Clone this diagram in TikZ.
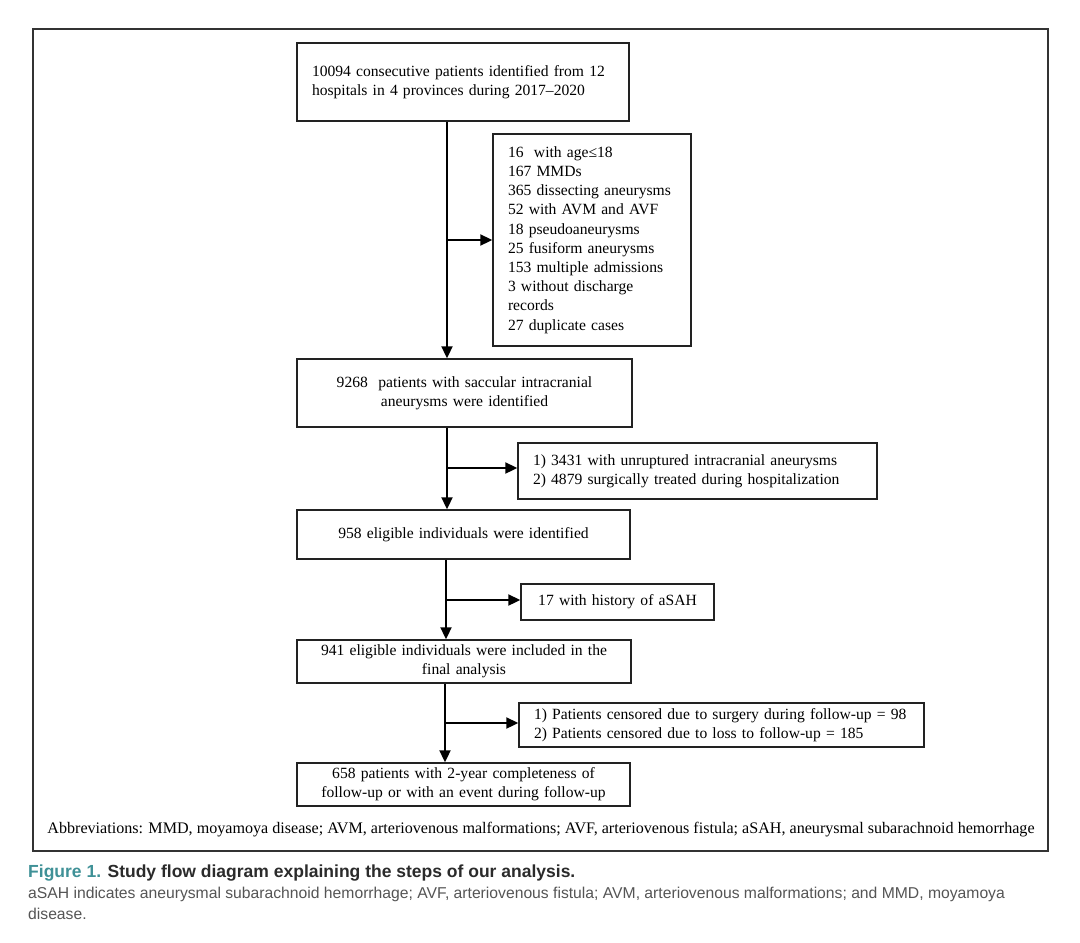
\documentclass[tikz,border=0pt]{standalone}
\usepackage{fontspec}
\setmainfont{Liberation Serif}
\newfontfamily\capfont{Liberation Sans}
\usetikzlibrary{arrows.meta}
\definecolor{framec}{HTML}{333333}
\definecolor{linec}{HTML}{222222}
\definecolor{tealc}{HTML}{3F9197}
\definecolor{capgray}{HTML}{555555}
\definecolor{capdark}{HTML}{2B2B2B}
\begin{document}
\begin{tikzpicture}[x=1pt,y=-1pt,
  box/.style={draw=linec, line width=1.4pt, inner xsep=15pt, inner ysep=2pt,
    font=\fontsize{15.6}{19.2}\selectfont, text=black},
  flow/.style={draw=black, line width=2pt, -{Triangle[length=12pt,width=11pt]}},
  capline/.style={anchor=base west, inner sep=0pt, font=\capfont\fontsize{15.7}{20}\selectfont}
  ]
\useasboundingbox (0,0) rectangle (1080,943);
\fill[white] (0,0) rectangle (1080,943);
\draw[framec, line width=2.2pt] (33,29) rectangle (1048,851);

\node[box, text width=302pt, align=left, minimum height=78pt] (b1) at (463,82)
  {10094 consecutive patients identified from 12\\hospitals in 4 provinces during 2017–2020};
\node[box, text width=168pt, align=left, minimum height=212pt] (ex1) at (592,240)
  {16\ \ with age≤18\\167 MMDs\\365 dissecting aneurysms\\52 with AVM and AVF\\18 pseudoaneurysms\\25 fusiform aneurysms\\153 multiple admissions\\3 without discharge\\records\\27 duplicate cases};
\node[box, text width=305pt, align=center, minimum height=68pt] (b2) at (464.5,393)
  {9268\ \ patients with saccular intracranial\\aneurysms were identified};
\node[box, text width=329pt, align=left, minimum height=56pt] (ex2) at (697.5,471)
  {1) 3431 with unruptured intracranial aneurysms\\2) 4879 surgically treated during hospitalization};
\node[box, text width=303pt, align=center, minimum height=49pt] (b3) at (463.5,534.5)
  {958 eligible individuals were identified};
\node[box, text width=163pt, align=center, minimum height=36pt] (ex3) at (617.5,602)
  {17 with history of aSAH};
\node[box, text width=304pt, align=center, minimum height=43pt] (b4) at (464,661.5)
  {941 eligible individuals were included in the\\final analysis};
\node[box, text width=375pt, align=left, minimum height=44pt] (ex4) at (721.5,725)
  {1) Patients censored due to surgery during follow-up = 98\\2) Patients censored due to loss to follow-up = 185};
\node[box, text width=303pt, align=center, minimum height=43pt] (b5) at (463.5,784.5)
  {658 patients with 2-year completeness of\\follow-up or with an event during follow-up};

\coordinate (t1) at (447,240);
\coordinate (t2) at (447,468);
\coordinate (t3) at (446,600);
\coordinate (t4) at (445,723);
\draw[flow] (b1.south -| t1) -- (b2.north -| t1);
\draw[flow] (t1) -- (ex1.west |- t1);
\draw[flow] (b2.south -| t2) -- (b3.north -| t2);
\draw[flow] (t2) -- (ex2.west |- t2);
\draw[flow] (b3.south -| t3) -- (b4.north -| t3);
\draw[flow] (t3) -- (ex3.west |- t3);
\draw[flow] (b4.south -| t4) -- (b5.north -| t4);
\draw[flow] (t4) -- (ex4.west |- t4);

\node[inner sep=0pt, font=\fontsize{16.1}{18}\selectfont] (abbr) at (541,830)
  {Abbreviations: MMD, moyamoya disease; AVM, arteriovenous malformations; AVF, arteriovenous fistula; aSAH, aneurysmal subarachnoid hemorrhage};

\node[capline, font=\capfont\fontsize{17.5}{20}\selectfont] (cap1) at (28,877)
  {\textbf{\textcolor{tealc}{Figure 1.} \textcolor{capdark}{Study flow diagram explaining the steps of our analysis.}}};
\node[capline, text=capgray] (cap2) at (28,898)
  {aSAH indicates aneurysmal subarachnoid hemorrhage; AVF, arteriovenous fistula; AVM, arteriovenous malformations; and MMD, moyamoya};
\node[capline, text=capgray] (cap3) at (28,919) {disease.};
\end{tikzpicture}
\end{document}
